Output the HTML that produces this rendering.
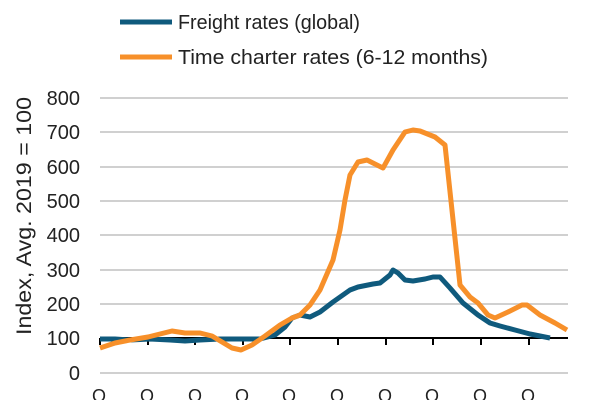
<!DOCTYPE html>
<html><head><style>body{margin:0;background:#fff}</style></head><body>
<svg width="600" height="400" xmlns="http://www.w3.org/2000/svg" font-family="Liberation Sans, sans-serif">
<rect width="600" height="400" fill="#fff"/>
<g stroke="#d0d0d0" stroke-width="2">
<line x1="100" x2="568" y1="98" y2="98"/><line x1="100" x2="568" y1="132" y2="132"/>
<line x1="100" x2="568" y1="167" y2="167"/><line x1="100" x2="568" y1="201" y2="201"/>
<line x1="100" x2="568" y1="235" y2="235"/><line x1="100" x2="568" y1="270" y2="270"/>
<line x1="100" x2="568" y1="304" y2="304"/><line x1="100" x2="568" y1="373" y2="373"/>
</g>
<g font-size="20" fill="#222" text-anchor="end">
<text x="80" y="105">800</text><text x="80" y="139">700</text><text x="80" y="174">600</text>
<text x="80" y="208">500</text><text x="80" y="242">400</text><text x="80" y="277">300</text>
<text x="80" y="311">200</text><text x="80" y="345">100</text><text x="80" y="380">0</text>
</g>
<text transform="translate(31,216) rotate(-90)" font-size="21" fill="#222" text-anchor="middle" textLength="238" lengthAdjust="spacingAndGlyphs">Index, Avg. 2019 = 100</text>
<line x1="100" x2="568" y1="338" y2="338" stroke="#000" stroke-width="2"/>
<g stroke="#000" stroke-width="2">
<line x1="100" x2="100" y1="338" y2="345"/><line x1="148" x2="148" y1="338" y2="345"/><line x1="195" x2="195" y1="338" y2="345"/>
<line x1="243" x2="243" y1="338" y2="345"/><line x1="290" x2="290" y1="338" y2="345"/><line x1="338" x2="338" y1="338" y2="345"/>
<line x1="386" x2="386" y1="338" y2="345"/><line x1="433" x2="433" y1="338" y2="345"/><line x1="481" x2="481" y1="338" y2="345"/>
<line x1="529" x2="529" y1="338" y2="345"/>
</g>
<g font-size="18" fill="#222">
<text x="92" y="402">O</text><text x="140" y="402">O</text><text x="188" y="402">O</text><text x="235" y="402">O</text><text x="282" y="402">O</text><text x="330" y="402">O</text><text x="378" y="402">O</text><text x="425" y="402">O</text><text x="473" y="402">O</text><text x="521" y="402">O</text>
</g>
<polyline fill="none" stroke="#0f5a7d" stroke-width="5" stroke-linejoin="round" points="100,339 115,339 130,340 150,339 170,340 185,341 200,340 220,339 240,339 260,339 275,335 285,327 292,318 300,315 310,317 320,312 333,302 350,290 358,287 373,284 380,283 390,275 393,270 398,273 405,280 413,281 425,279 433,277 440,277 450,288 463,303 478,315 490,323 500,326 515,330 530,334 550,338"/>
<polyline fill="none" stroke="#f7902a" stroke-width="5" stroke-linejoin="round" points="100,348 115,343 130,340 148,337 160,334 172,331 185,333 200,333 212,336 222,342 232,348 241,350 252,345 265,336 280,325 292,318 300,315 310,305 320,290 333,260 340,230 345,200 350,175 358,162 367,160 383,168 393,150 405,132 413,130 420,131 435,137 445,145 460,285 470,297 478,303 488,315 495,318 508,312 522,305 527,305 540,315 555,323 567,330"/>
<line x1="120" x2="172" y1="22" y2="22" stroke="#0f5a7d" stroke-width="5"/>
<line x1="120" x2="172" y1="57" y2="57" stroke="#f7902a" stroke-width="5"/>
<text x="178" y="29" font-size="20" fill="#222" textLength="182" lengthAdjust="spacingAndGlyphs">Freight rates (global)</text>
<text x="178" y="64" font-size="20" fill="#222" textLength="310" lengthAdjust="spacingAndGlyphs">Time charter rates (6-12 months)</text>
</svg>
</body></html>
